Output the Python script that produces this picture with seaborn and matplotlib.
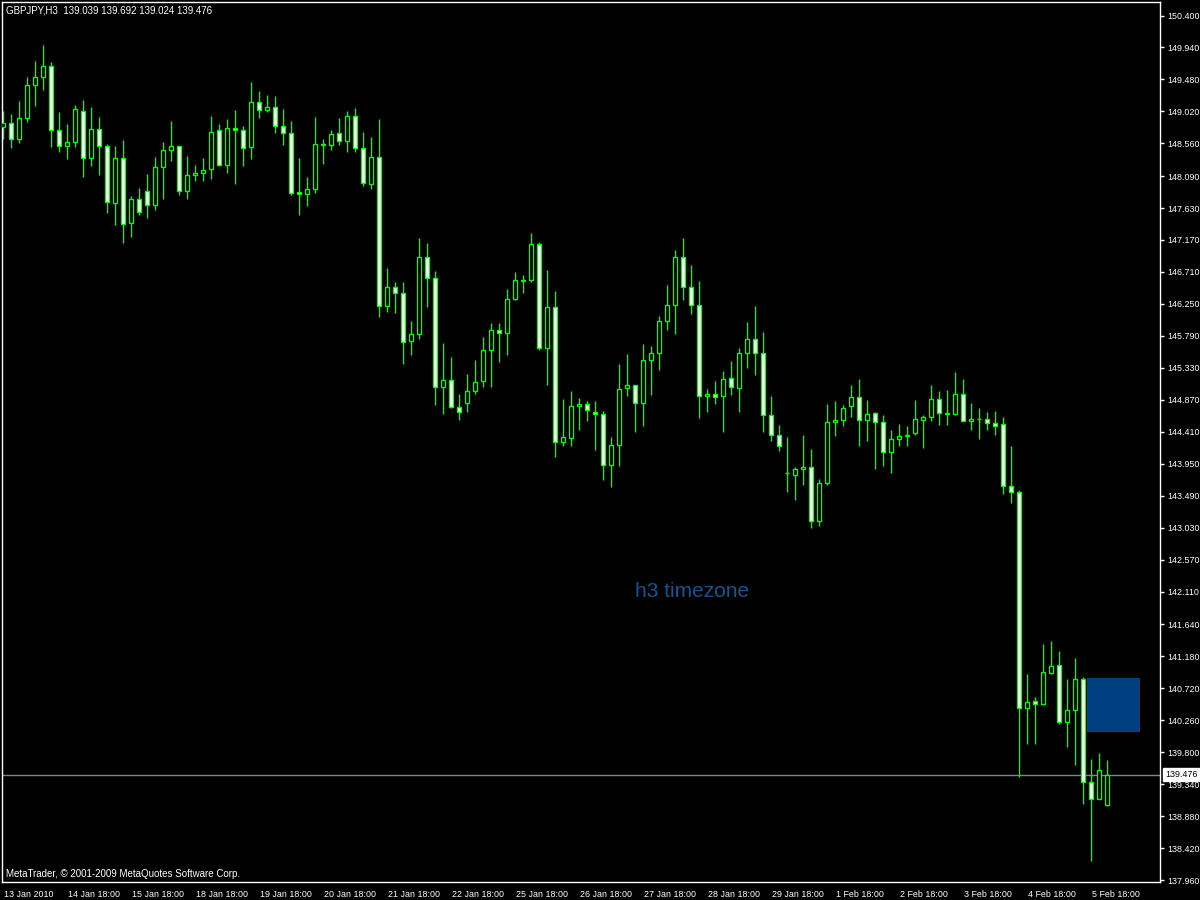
import numpy as np
import pandas as pd
import seaborn as sns
import matplotlib
matplotlib.use("Agg")
import matplotlib.pyplot as plt
from matplotlib.transforms import ScaledTranslation, blended_transform_factory
from matplotlib.patches import Rectangle

# ---------------- data (GBPJPY, H3) ----------------
opens = [148.80, 148.85, 148.62, 148.93, 149.40, 149.51, 149.68, 148.75, 148.52, 148.58,
         149.02, 148.35, 148.76, 148.52, 147.70, 148.35, 147.41, 147.76, 147.88, 147.67,
         148.22, 148.47, 148.52, 147.87, 148.10, 148.14, 148.19, 148.75, 148.25, 148.78,
         148.75, 148.51, 149.15, 149.04, 149.09, 148.81, 148.71, 147.86, 147.83, 147.91,
         148.53, 148.53, 148.71, 148.59, 148.95, 148.50, 147.97, 148.37, 146.22, 146.49,
         146.40, 145.71, 145.81, 146.92, 146.63, 145.06, 145.15, 144.76, 144.82, 144.99,
         145.14, 145.58, 145.87, 145.83, 146.32, 146.58, 146.59, 147.11, 145.61, 146.20,
         144.27, 144.32, 144.78, 144.81, 144.70, 144.66, 143.93, 144.22, 145.04, 145.08,
         144.83, 145.44, 145.55, 146.01, 146.24, 146.93, 146.49, 146.23, 144.92, 144.96,
         144.92, 145.18, 145.04, 145.54, 145.74, 145.54, 144.65, 144.36, 143.81, 143.79,
         143.88, 143.90, 143.12, 143.68, 144.55, 144.58, 144.78, 144.91, 144.58, 144.68,
         144.55, 144.12, 144.30, 144.35, 144.39, 144.58, 144.62, 144.88, 144.66, 144.66,
         144.95, 144.57, 144.60, 144.60, 144.53, 144.52, 143.63, 143.54, 140.43, 140.53,
         140.49, 140.94, 141.05, 140.24, 140.40, 140.85, 139.37, 139.12, 139.039]
highs = [149.03, 148.98, 149.17, 149.52, 149.74, 149.98, 149.73, 149.01, 148.84, 149.11,
         149.18, 149.08, 148.94, 148.55, 148.52, 148.61, 147.80, 147.92, 148.12, 148.36,
         148.58, 148.88, 148.52, 148.38, 148.25, 148.35, 148.95, 148.84, 148.91, 149.04,
         148.81, 149.44, 149.31, 149.26, 149.24, 149.06, 148.88, 148.35, 148.08, 148.94,
         148.62, 148.75, 148.93, 149.03, 149.07, 148.72, 148.65, 148.91, 146.77, 146.57,
         146.57, 146.00, 147.20, 147.13, 146.72, 145.69, 145.49, 144.95, 145.24, 145.44,
         145.77, 145.98, 145.98, 146.47, 146.71, 146.67, 147.27, 147.14, 146.74, 146.44,
         144.88, 145.00, 144.90, 144.85, 144.85, 144.71, 144.34, 145.39, 145.53, 145.08,
         145.67, 145.64, 146.08, 146.52, 147.03, 147.20, 146.81, 146.58, 145.03, 145.14,
         145.29, 145.43, 145.62, 145.99, 146.22, 145.85, 144.93, 144.51, 144.34, 143.90,
         144.36, 144.16, 143.73, 144.81, 144.85, 144.80, 145.08, 145.17, 144.87, 144.70,
         144.65, 144.44, 144.52, 144.49, 144.87, 144.65, 145.08, 145.00, 145.01, 145.27,
         145.17, 144.83, 144.75, 144.70, 144.71, 144.62, 144.21, 143.57, 140.93, 140.60,
         141.36, 141.40, 141.26, 140.85, 141.16, 140.88, 139.70, 139.79, 139.692]
lows = [148.62, 148.50, 148.57, 148.87, 149.10, 149.33, 148.51, 148.43, 148.34, 148.51,
        148.07, 148.23, 148.10, 147.56, 147.39, 147.13, 147.22, 147.53, 147.49, 147.60,
        147.76, 148.30, 147.82, 147.76, 148.02, 148.02, 148.05, 148.24, 148.14, 147.97,
        148.24, 148.34, 148.93, 149.01, 148.71, 148.54, 147.82, 147.53, 147.66, 147.84,
        148.27, 148.47, 148.53, 148.44, 148.44, 147.95, 147.91, 146.06, 146.13, 146.12,
        145.39, 145.52, 145.74, 146.20, 144.79, 144.67, 144.75, 144.58, 144.70, 144.96,
        145.05, 145.05, 145.41, 145.51, 146.30, 146.40, 146.57, 145.59, 145.09, 144.05,
        144.21, 144.21, 144.44, 144.57, 144.15, 143.71, 143.61, 143.92, 144.92, 144.41,
        144.50, 144.94, 145.30, 145.88, 145.82, 146.30, 146.10, 144.61, 144.69, 144.81,
        144.40, 144.94, 144.70, 145.33, 145.23, 144.40, 144.28, 144.14, 143.55, 143.43,
        143.64, 143.03, 143.05, 143.64, 144.35, 144.50, 144.63, 144.21, 144.28, 143.88,
        143.92, 143.82, 144.21, 144.21, 144.37, 144.18, 144.57, 144.51, 144.51, 144.65,
        144.56, 144.44, 144.30, 144.43, 144.37, 143.51, 143.38, 139.44, 139.92, 139.92,
        140.48, 140.93, 140.20, 139.88, 139.61, 139.05, 138.23, 139.12, 139.024]
closes = [148.85, 148.62, 148.93, 149.40, 149.51, 149.68, 148.75, 148.52, 148.58, 149.05,
          148.35, 148.76, 148.52, 147.71, 148.35, 147.40, 147.76, 147.57, 147.67, 148.22,
          148.47, 148.52, 147.87, 148.10, 148.14, 148.18, 148.73, 148.25, 148.78, 148.75,
          148.50, 149.15, 149.04, 149.08, 148.81, 148.71, 147.85, 147.83, 147.91, 148.55,
          148.55, 148.69, 148.59, 148.95, 148.50, 147.99, 148.37, 146.22, 146.49, 146.41,
          145.70, 145.81, 146.92, 146.63, 145.06, 145.15, 144.76, 144.69, 144.99, 145.12,
          145.58, 145.87, 145.83, 146.32, 146.59, 146.59, 147.11, 145.61, 146.20, 144.27,
          144.33, 144.78, 144.81, 144.72, 144.66, 143.93, 144.22, 145.02, 145.08, 144.83,
          145.45, 145.54, 146.01, 146.24, 146.93, 146.49, 146.23, 144.92, 144.96, 144.91,
          145.17, 145.05, 145.54, 145.74, 145.54, 144.65, 144.36, 144.20, 143.81, 143.88,
          143.90, 143.12, 143.68, 144.55, 144.58, 144.75, 144.91, 144.58, 144.66, 144.55,
          144.12, 144.30, 144.35, 144.37, 144.59, 144.62, 144.88, 144.68, 144.68, 144.95,
          144.57, 144.60, 144.60, 144.53, 144.50, 143.63, 143.54, 140.43, 140.52, 140.49,
          140.95, 141.04, 140.24, 140.40, 140.85, 139.37, 139.12, 139.55, 139.476]

date_labels = ["13 Jan 2010", "14 Jan 18:00", "15 Jan 18:00", "18 Jan 18:00", "19 Jan 18:00",
               "20 Jan 18:00", "21 Jan 18:00", "22 Jan 18:00", "25 Jan 18:00", "26 Jan 18:00",
               "27 Jan 18:00", "28 Jan 18:00", "29 Jan 18:00", "1 Feb 18:00", "2 Feb 18:00",
               "3 Feb 18:00", "4 Feb 18:00", "5 Feb 18:00"]
price_ticks = [150.400, 149.940, 149.480, 149.020, 148.560, 148.090, 147.630, 147.170,
               146.710, 146.250, 145.790, 145.330, 144.870, 144.410, 143.950, 143.490,
               143.030, 142.570, 142.110, 141.640, 141.180, 140.720, 140.260, 139.800,
               139.340, 138.880, 138.420, 137.960]
symbol = "GBPJPY,H3"
last_ohlc = [139.039, 139.692, 139.024, 139.476]
watermark = "h3 timezone"
copyright_text = "MetaTrader, \u00a9 2001-2009 MetaQuotes Software Corp."

# ---------------- styling ----------------
sns.set_theme(style="dark", rc={"axes.facecolor": "black", "figure.facecolor": "black",
                                "axes.edgecolor": "white", "text.color": "white",
                                "xtick.color": "white", "ytick.color": "white"})
plt.rcParams['font.family'] = ['Liberation Sans', 'DejaVu Sans']

GREEN = "#00ff00"
FS = 6.4
FS_TXT = 7.0

df = pd.DataFrame({"open": opens, "high": highs, "low": lows, "close": closes})
df["idx"] = np.arange(len(df))
df["bull"] = df["close"] >= df["open"]
df["bottom"] = df[["open", "close"]].min(axis=1)
df["height"] = (df["close"] - df["open"]).abs()
df["fill"] = np.where(df["bull"], "black", "white")

fig = plt.figure(figsize=(12, 9), dpi=100, facecolor="black")
ax = fig.add_axes([2.3 / 1200, 18 / 900, (1160.3 - 2.3) / 1200, (882 - 2.3) / 900])
ax.set_facecolor("black")

# current price line
ax.axhline(last_ohlc[3], color="#778899", lw=1, zorder=1)

# wicks
ax.vlines(df["idx"], df["low"], df["high"], color=GREEN, lw=1, zorder=2)
# bodies
ax.bar(df["idx"], df["height"], bottom=df["bottom"], width=0.55, color=df["fill"],
       edgecolor=GREEN, linewidth=1, zorder=3)

ax.set_xlim(-0.09, 144.66)
ax.set_ylim(137.932, 150.590)

# axes ticks
ax.yaxis.tick_right()
ax.set_yticks(price_ticks)
ax.set_yticklabels([f"{v:.3f}" for v in price_ticks])
ax.tick_params(axis="y", colors="white", direction="out", length=3, width=1,
               labelsize=FS, pad=2)
xt = list(range(0, 8 * len(date_labels), 8))
ax.set_xticks(xt)
ax.set_xticklabels(date_labels, ha="left")
ax.tick_params(axis="x", colors="white", direction="out", length=4, width=1,
               labelsize=FS, pad=1.5)
off = ScaledTranslation(1.0 / 72, 0, fig.dpi_scale_trans)
for lab in ax.get_xticklabels():
    lab.set_transform(lab.get_transform() + off)
ax.grid(False)
for s in ax.spines.values():
    s.set_color("white")
    s.set_linewidth(1)

# current price label on axis
tr = blended_transform_factory(ax.transAxes, ax.transData)
ax.text(1.004, last_ohlc[3], f"{last_ohlc[3]:.3f}", transform=tr, color="black",
        fontsize=FS, ha="left", va="center", zorder=10, clip_on=False,
        bbox=dict(boxstyle="square,pad=0.2", fc="white", ec="white"))

# header & footer
ax.text(0.003, 0.991, f"{symbol}  " + " ".join(f"{v:.3f}" for v in last_ohlc),
        transform=ax.transAxes, color="white", fontsize=FS_TXT, ha="left", va="center")
ax.text(0.003, 0.009, copyright_text, transform=ax.transAxes, color="white",
        fontsize=FS_TXT, ha="left", va="center")

# watermark and box
ax.text(86.1, 142.105, watermark, color="#1a5290", fontsize=15, ha="center",
        va="center", zorder=1)
ax.add_patch(Rectangle((135.5, 140.09), 6.625, 0.777, facecolor="#004080",
                       edgecolor="none", zorder=4))

fig.savefig("out.png", dpi=100, facecolor="black")
